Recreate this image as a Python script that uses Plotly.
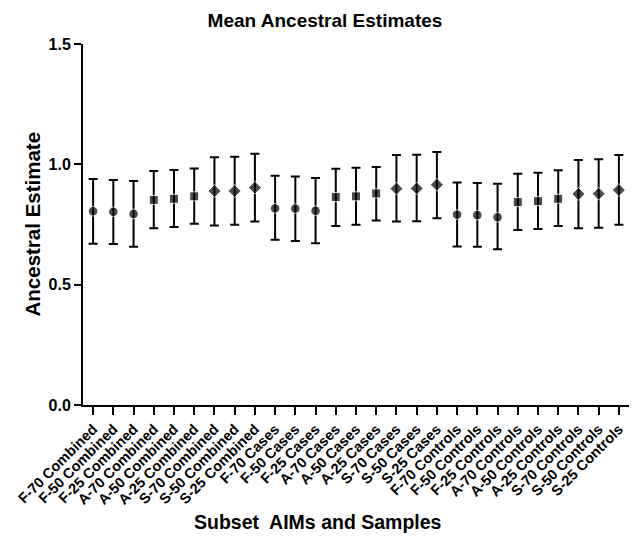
import plotly.graph_objects as go

labels = [
    "F-70 Combined", "F-50 Combined", "F-25 Combined",
    "A-70 Combined", "A-50 Combined", "A-25 Combined",
    "S-70 Combined", "S-50 Combined", "S-25 Combined",
    "F-70 Cases", "F-50 Cases", "F-25 Cases",
    "A-70 Cases", "A-50 Cases", "A-25 Cases",
    "S-70 Cases", "S-50 Cases", "S-25 Cases",
    "F-70 Controls", "F-50 Controls", "F-25 Controls",
    "A-70 Controls", "A-50 Controls", "A-25 Controls",
    "S-70 Controls", "S-50 Controls", "S-25 Controls",
]
means = [0.805, 0.803, 0.794, 0.852, 0.857, 0.867, 0.889, 0.889, 0.903,
         0.817, 0.816, 0.807, 0.864, 0.867, 0.879, 0.899, 0.900, 0.915,
         0.791, 0.789, 0.780, 0.843, 0.847, 0.857, 0.877, 0.878, 0.893]
upper = [0.939, 0.935, 0.931, 0.972, 0.976, 0.983, 1.029, 1.032, 1.044,
         0.953, 0.949, 0.943, 0.982, 0.986, 0.989, 1.039, 1.040, 1.051,
         0.924, 0.922, 0.919, 0.961, 0.965, 0.975, 1.018, 1.021, 1.039]
lower = [0.670, 0.669, 0.658, 0.734, 0.740, 0.753, 0.746, 0.749, 0.762,
         0.687, 0.681, 0.672, 0.744, 0.749, 0.767, 0.762, 0.763, 0.776,
         0.659, 0.658, 0.647, 0.727, 0.731, 0.744, 0.734, 0.737, 0.749]
symbols_by_panel = ["circle", "square", "diamond"]
y_ticks = [0.0, 0.5, 1.0, 1.5]

FONT = "Liberation Sans, Arial, sans-serif"

x_idx = list(range(len(labels)))
symbols = [symbols_by_panel[(i // 3) % 3] for i in x_idx]
sizes = [{"circle": 9.5, "square": 9, "diamond": 10}[s] for s in symbols]
err_plus = [u - m for u, m in zip(upper, means)]
err_minus = [m - l for m, l in zip(means, lower)]

fig = go.Figure()
fig.add_trace(go.Scatter(
    x=x_idx, y=means, mode="markers",
    marker=dict(symbol=symbols, size=sizes, color="black"),
    error_y=dict(type="data", symmetric=False, array=err_plus, arrayminus=err_minus,
                 color="black", thickness=2, width=4.5),
    showlegend=False,
))

fig.update_layout(
    width=632, height=539,
    margin=dict(l=83, r=3, t=44, b=134, autoexpand=False),
    plot_bgcolor="white", paper_bgcolor="white",
    title=dict(text="Mean Ancestral Estimates", xref="container", yref="container",
               x=325/632, y=1 - 20/539, xanchor="center", yanchor="middle",
               font=dict(family=FONT, size=19, color="black", weight="bold")),
    xaxis=dict(range=[-0.5, 26.5], tickmode="array", tickvals=x_idx, ticktext=labels,
               tickangle=-45, showline=True, linecolor="black", linewidth=2,
               ticks="outside", ticklen=8, tickwidth=2, tickcolor="black",
               showgrid=False, zeroline=False, automargin=False,
               tickfont=dict(family=FONT, size=14.5, color="black", weight="bold")),
    yaxis=dict(range=[0, 1.5], tickmode="array", tickvals=y_ticks, tickformat=".1f",
               showline=True, linecolor="black", linewidth=2,
               ticks="outside", ticklen=7, tickwidth=2, tickcolor="black",
               showgrid=False, zeroline=False, automargin=False,
               tickfont=dict(family=FONT, size=16, color="black", weight="bold")),
    annotations=[
        dict(text="Ancestral Estimate", xref="paper", yref="paper",
             x=(32 - 83) / 546, y=0.5, textangle=-90, showarrow=False,
             xanchor="center", yanchor="middle",
             font=dict(family=FONT, size=20.5, color="black", weight="bold")),
        dict(text="Subset  AIMs and Samples", xref="paper", yref="paper",
             x=(318 - 83) / 546, y=(405 - 522) / 361, showarrow=False,
             xanchor="center", yanchor="middle",
             font=dict(family=FONT, size=19.5, color="black", weight="bold")),
    ],
)

fig.write_html("out.html", config={"displayModeBar": False},
               post_script="document.body.style.margin='0';document.body.style.padding='0';")
